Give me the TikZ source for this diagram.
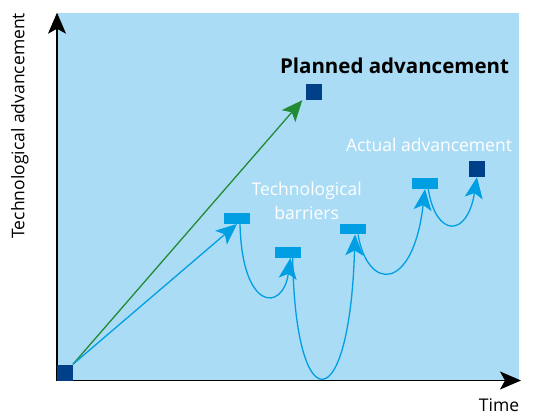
\documentclass[tikz,border=0pt]{standalone}
\usepackage{fontspec}
\setmainfont{Open Sans}
\usetikzlibrary{arrows.meta}

\definecolor{plotbg}{RGB}{170,220,246}
\definecolor{barrierblue}{RGB}{0,159,227}
\definecolor{goalblue}{RGB}{0,64,137}
\definecolor{plangreen}{RGB}{34,139,52}

\tikzset{
  bigtip/.tip={Stealth[length=21pt,width=18pt,inset=5pt]},
  axis/.style={line width=1.3pt,draw=black,-{bigtip}},
  barrier/.style={fill=barrierblue,draw=none,minimum width=26pt,minimum height=10.5pt,inner sep=0pt},
  goal/.style={fill=goalblue,draw=none,minimum size=16pt,inner sep=0pt},
  path/.style={line width=1.3pt,draw=barrierblue,-{bigtip[fill=barrierblue]}},
  plan/.style={line width=1.3pt,draw=plangreen,-{bigtip[fill=plangreen]}},
  lbl/.style={inner sep=0pt,font=\fontsize{17.5}{23.3}\selectfont},
}

\begin{document}
\begin{tikzpicture}[x=1pt,y=-1pt]
  \useasboundingbox (0,0) rectangle (535,414);

  % plotting area
  \fill[plotbg] (57,13.3) rectangle (519,380.5);

  % axes
  \coordinate (origin) at (57,380.5);
  \coordinate (ytip) at (57,12.7);
  \coordinate (xtip) at (521,380.5);
  \draw[axis] (origin) -- (ytip);
  \draw[axis] (origin) -- (xtip);

  % start, goal and end points
  \node[goal] (start) at (64.7,372.5) {};
  \node[goal] (planned) at (314,92) {};
  \node[goal] (actual) at (477,169) {};

  % technological barriers
  \node[barrier] (b1) at (237,218.5) {};
  \node[barrier] (b2) at (288,252.5) {};
  \node[barrier] (b3) at (353,229) {};
  \node[barrier] (b4) at (425,183.7) {};

  % planned route
  \draw[plan] (start.north east) -- ([xshift=-3.5pt]planned.south west);

  % actual route
  \draw[path] (start.north east) -- (b1.south);
  \draw[path] ([xshift=3pt]b1.south) .. controls +(2,88) and +(-7.5,54) .. ([xshift=2.5pt]b2.south);
  \draw[path] ([xshift=4.7pt]b2.south) .. controls +(2.3,163) and +(-5.5,186.7) .. ([xshift=2pt]b3.south);
  \draw[path] ([xshift=5pt]b3.south) .. controls +(10,57.4) and +(-12,102.7) .. (b4.south);
  \draw[path] ([xshift=3.3pt]b4.south) .. controls +(7.7,48.7) and +(-9.7,60.7) .. (actual.south);

  % labels
  \node[inner sep=0pt,anchor=base,font=\fontsize{20.5}{24}\selectfont\bfseries] (plannedlbl) at (394.5,74) {Planned advancement};
  \node[lbl,anchor=base,text=white] (actuallbl) at (429,151.7) {Actual advancement};
  \node[lbl,align=center,text=white] (barrierlbl) at (306.7,201) {Technological\\barriers};
  \node[lbl,anchor=base,rotate=90] (ylbl) at (24.3,125.7) {Technological advancement};
  \node[lbl,anchor=base] (xlbl) at (499,411.8) {Time};
\end{tikzpicture}
\end{document}
